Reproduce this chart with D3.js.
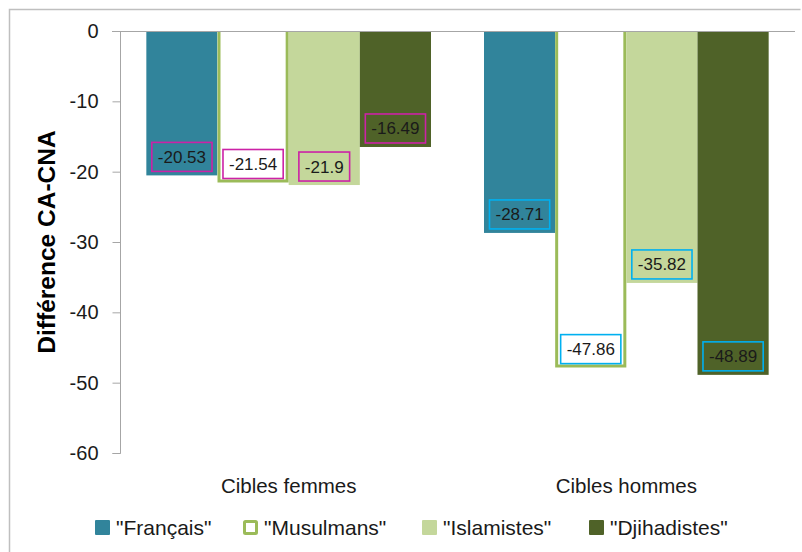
<!DOCTYPE html>
<html>
<head>
<meta charset="utf-8">
<script src="https://cdn.jsdelivr.net/npm/d3@7"></script>
<style>
  body { margin: 0; background: #fff; }
  svg { display: block; font-family: "Liberation Sans", Arial, sans-serif; }
</style>
</head>
<body>
<svg id="chart"></svg>
<script>
// données du graphique
const categories = ["Cibles femmes", "Cibles hommes"];
const series = ["\"Français\"", "\"Musulmans\"", "\"Islamistes\"", "\"Djihadistes\""];
const francais = [-20.53, -28.71];
const musulmans = [-21.54, -47.86];
const islamistes = [-21.9, -35.82];
const djihadistes = [-16.49, -48.89];
const yTicks = [0, -10, -20, -30, -40, -50, -60];

const values = [francais, musulmans, islamistes, djihadistes];

// taille du svg
const width = 802;
const height = 552;

const MARGINS = { top: 31, right: 7, bottom: 99, left: 120 };

const fills = ["#31849b", "#ffffff", "#c4d79b", "#4f6228"];
const strokes = [null, "#9bbb59", null, null];
const labelBorders = ["#cc22a6", "#00b0f0"];

// tiret simple au lieu du signe moins unicode
const locale = d3.formatLocale({ decimal: ".", thousands: "", grouping: [3], currency: ["", ""], minus: "-" });
const fmt = locale.format("");
const fmtTick = locale.format("d");

const svg = d3.select("#chart").attr("width", width).attr("height", height);

// cadre extérieur
svg.append("path")
  .attr("d", `M9.5,${height} V9.5 H800.5`)
  .attr("fill", "none")
  .attr("stroke", "#bfbfbf")
  .attr("stroke-width", 1.5);

const x0 = d3.scaleBand()
  .domain(categories)
  .range([MARGINS.left, width - MARGINS.right])
  .paddingInner(0.157)
  .paddingOuter(0.078);

const x1 = d3.scaleBand()
  .domain(series)
  .range([0, x0.bandwidth()]);

const y = d3.scaleLinear()
  .domain([0, -60])
  .range([MARGINS.top, height - MARGINS.bottom]);

// barres
categories.forEach((cat, ci) => {
  const g = svg.append("g").attr("transform", `translate(${x0(cat)},0)`);
  series.forEach((s, si) => {
    const v = values[si][ci];
    const bx = x1(s);
    const bw = x1.bandwidth();
    g.append("rect")
      .attr("x", bx)
      .attr("y", y(0))
      .attr("width", bw)
      .attr("height", y(v) - y(0))
      .attr("fill", fills[si]);
    if (strokes[si]) {
      g.append("path")
        .attr("d", `M${bx + 1.5},${y(0)} V${y(v) - 1.5} H${bx + bw - 1.5} V${y(0)}`)
        .attr("fill", "none")
        .attr("stroke", strokes[si])
        .attr("stroke-width", 3);
    }
  });
});

// ligne du zéro
svg.append("line")
  .attr("x1", MARGINS.left - 8)
  .attr("x2", width - MARGINS.right)
  .attr("y1", y(0) + 0.5)
  .attr("y2", y(0) + 0.5)
  .attr("stroke", "#a6a6a6")
  .attr("stroke-width", 1.2);

// axe y
const yAxis = svg.append("g")
  .attr("transform", `translate(${MARGINS.left + 0.5},0)`)
  .call(d3.axisLeft(y).tickValues(yTicks).tickSize(8).tickPadding(14).tickFormat(fmtTick));
yAxis.select(".domain").attr("stroke", "#a6a6a6").attr("d", `M-8,${y(-60) + 0.5}H0V${y(0)}`);
yAxis.selectAll(".tick line").attr("stroke", "#a6a6a6");
yAxis.selectAll(".tick text")
  .attr("fill", "#1a1a1a")
  .style("font-size", "20px")
  .style("font-family", "'Liberation Sans', Arial, sans-serif");

// titre de l'axe y
svg.append("text")
  .attr("transform", `translate(55,${(y(0) + y(-60)) / 2}) rotate(-90)`)
  .attr("text-anchor", "middle")
  .attr("font-size", 24.5)
  .attr("font-weight", "bold")
  .attr("fill", "#000")
  .text("Différence CA-CNA");

// étiquettes des catégories
svg.selectAll(".cat")
  .data(categories)
  .join("text")
  .attr("class", "cat")
  .attr("x", d => x0(d) + x0.bandwidth() / 2)
  .attr("y", 493)
  .attr("text-anchor", "middle")
  .attr("font-size", 20.5)
  .attr("fill", "#1a1a1a")
  .text(d => d);

// étiquettes des valeurs
categories.forEach((cat, ci) => {
  series.forEach((s, si) => {
    const v = values[si][ci];
    const cx = x0(cat) + x1(s) + x1.bandwidth() / 2;
    const bottom = y(v) - 4;
    const g = svg.append("g");
    const t = g.append("text")
      .attr("x", cx)
      .attr("y", bottom - 8.5)
      .attr("text-anchor", "middle")
      .attr("font-size", 17)
      .attr("fill", "#1a1a1a")
      .text(fmt(v));
    const tw = t.node().getComputedTextLength();
    g.insert("rect", "text")
      .attr("x", cx - tw / 2 - 6)
      .attr("y", bottom - 29)
      .attr("width", tw + 12)
      .attr("height", 29)
      .attr("fill", "none")
      .attr("stroke", labelBorders[ci])
      .attr("stroke-width", 1.6);
  });
});

// légende
const legendX = [95, 243, 422, 589];
const legend = svg.selectAll(".legend")
  .data(series)
  .join("g")
  .attr("class", "legend")
  .attr("transform", (d, i) => `translate(${legendX[i]},520)`);

legend.append("rect")
  .attr("x", (d, i) => strokes[i] ? 1.5 : 0)
  .attr("y", (d, i) => strokes[i] ? 1.5 : 0)
  .attr("width", (d, i) => strokes[i] ? 12 : 15)
  .attr("height", (d, i) => strokes[i] ? 12 : 15)
  .attr("rx", 1)
  .attr("fill", (d, i) => fills[i])
  .attr("stroke", (d, i) => strokes[i])
  .attr("stroke-width", 3);

legend.append("text")
  .attr("x", 21)
  .attr("y", 15)
  .attr("font-size", 21)
  .attr("fill", "#1a1a1a")
  .text(d => d);
</script>
</body>
</html>
